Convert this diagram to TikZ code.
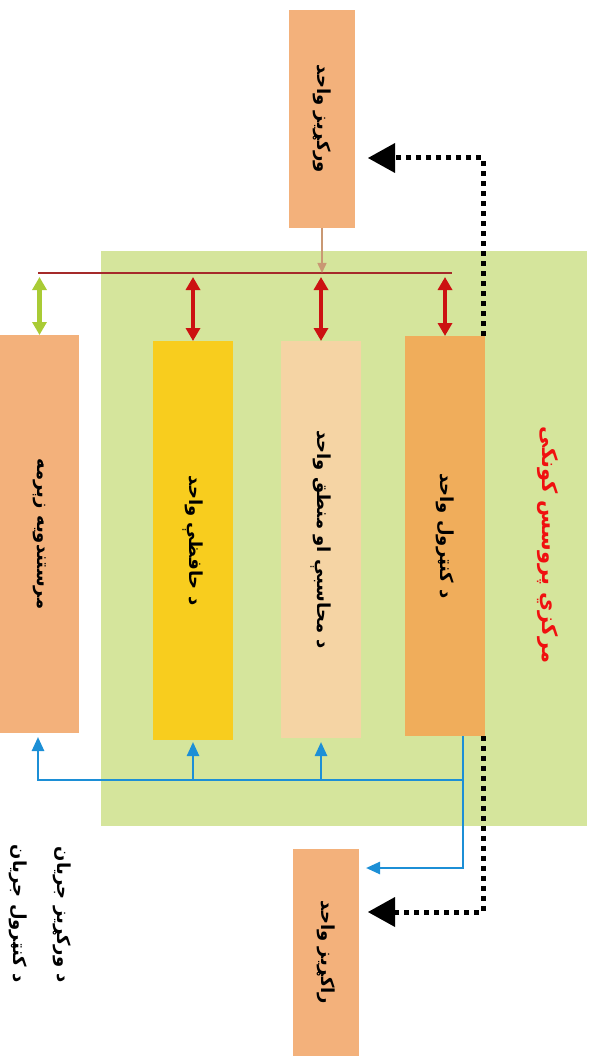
\documentclass[tikz,border=0pt]{standalone}
\usepackage{fontspec}
\TeXXeTstate=1
\newfontfamily\arabicfont[Script=Arabic]{DejaVu Sans}
\usetikzlibrary{arrows.meta}
\definecolor{bgG}{HTML}{D5E59C}
\definecolor{boxO}{HTML}{F3B17B}
\definecolor{ctrlO}{HTML}{F0AD5B}
\definecolor{aluC}{HTML}{F5D4A4}
\definecolor{memY}{HTML}{F8CD1E}
\definecolor{busR}{HTML}{A52A2A}
\definecolor{arrR}{HTML}{CC1111}
\definecolor{arrG}{HTML}{A9CB35}
\definecolor{flowB}{HTML}{1C8FD6}
\definecolor{tanA}{HTML}{C99873}
\definecolor{titleR}{HTML}{F01010}
\begin{document}
\begin{tikzpicture}[x=1pt,y=-1pt,
  unitbox/.style={draw=none,inner sep=0pt,outer sep=0pt},
  lbl/.style={rotate=-90,font=\arabicfont\bfseries\fontsize{18}{20}\selectfont,text=black,inner sep=0pt},
  redarrow/.style={draw=arrR,line width=4.5pt,{Triangle[width=14pt,length=13pt]}-{Triangle[width=14pt,length=13pt]}},
  greenarrow/.style={draw=arrG,line width=4.5pt,{Triangle[width=14pt,length=13pt]}-{Triangle[width=14pt,length=13pt]}},
  bus/.style={draw=busR,line width=2.5pt},
  ctrlflow/.style={draw=black,line width=5pt,dash pattern=on 5pt off 5pt},
  dataflow/.style={draw=flowB,line width=2.5pt},
  bluetip/.style={-{Triangle[width=12pt,length=14pt]}}
]
\useasboundingbox (0,0) rectangle (598,1056);
\fill[bgG] (101,251) rectangle (587,826);

% boxes
\node[unitbox,fill=boxO,minimum width=66pt,minimum height=218pt] (in) at (322,119) {};
\node[unitbox,fill=boxO,minimum width=66pt,minimum height=207pt] (out) at (326,952.5) {};
\node[unitbox,fill=ctrlO,minimum width=80pt,minimum height=400pt] (ctrl) at (445,536) {};
\node[unitbox,fill=aluC,minimum width=80pt,minimum height=397pt] (alu) at (321,539.5) {};
\node[unitbox,fill=memY,minimum width=80pt,minimum height=399pt] (mem) at (193,540.5) {};
\node[unitbox,fill=boxO,minimum width=79pt,minimum height=398pt] (aux) at (39.5,534) {};

% labels
\node[lbl] (inT) at (in.center) {\beginR ورکړیز واحد\endR};
\node[lbl] (outT) at (out.center) {\beginR راکړیز واحد\endR};
\node[lbl] (ctrlT) at (ctrl.center) {\beginR د کنټرول واحد\endR};
\node[lbl] (aluT) at (alu.center) {\beginR د محاسبې او منطق واحد\endR};
\node[lbl] (memT) at (mem.center) {\beginR د حافظې واحد\endR};
\node[lbl] (auxT) at (aux.center) {\beginR مرستندویه زېرمه\endR};
\node[lbl,text=titleR,font=\arabicfont\bfseries\fontsize{21}{23}\selectfont] (cpuT) at (548,545) {\beginR مرکزي پروسس کونکی\endR};
\node[lbl,anchor=east] (legIn) at (62,983) {\beginR د ورکړیز جریان\endR};
\node[lbl,anchor=east] (legCt) at (18,983) {\beginR د کنټرول جریان\endR};

% bus
\coordinate (busL) at (38,273);
\coordinate (busRt) at (452,273);
\draw[bus] (busL) -- (busRt);
\draw[redarrow] (mem.north |- busL) ++(0,4) -- (mem.north);
\draw[redarrow] (alu.north |- busL) ++(0,4) -- (alu.north);
\draw[redarrow] (ctrl.north |- busL) ++(0,4) -- (ctrl.north);
\draw[greenarrow] (aux.north |- busL) ++(0,4) -- (aux.north);
\draw[draw=tanA,line width=1.5pt,-{Triangle[width=9pt,length=10pt]}] (in.south) -- (in.south |- busL);

% control flow (dotted)
\coordinate (cTop) at (483,158);
\coordinate (cBot) at (483,912);
\coordinate (inTip) at (368,158);
\coordinate (outTip) at (368,912);
\draw[ctrlflow] (ctrl.north east) ++(-2,0) -- (cTop) -- ++(-90,0);
\fill[black] (inTip) -- ++(27,-15) -- ++(0,30) -- cycle;
\draw[ctrlflow] (ctrl.south east) ++(-2,0) -- (cBot) -- ++(-90,0);
\fill[black] (outTip) -- ++(27,-15) -- ++(0,30) -- cycle;

% data flow (blue)
\coordinate (bSrc) at (463,736);
\coordinate (bJ) at (463,780);
\coordinate (bOut) at (463,868);
\coordinate (bOutTip) at (366,868);
\draw[dataflow,bluetip] (bSrc) -- (bOut) -- (bOutTip);
\draw[dataflow,bluetip] (bJ) -- (38,780) -- (38,737);
\draw[dataflow,bluetip] (mem.south |- bJ) -- ++(0,-38);
\draw[dataflow,bluetip] (alu.south |- bJ) -- ++(0,-38);
\end{tikzpicture}
\end{document}
